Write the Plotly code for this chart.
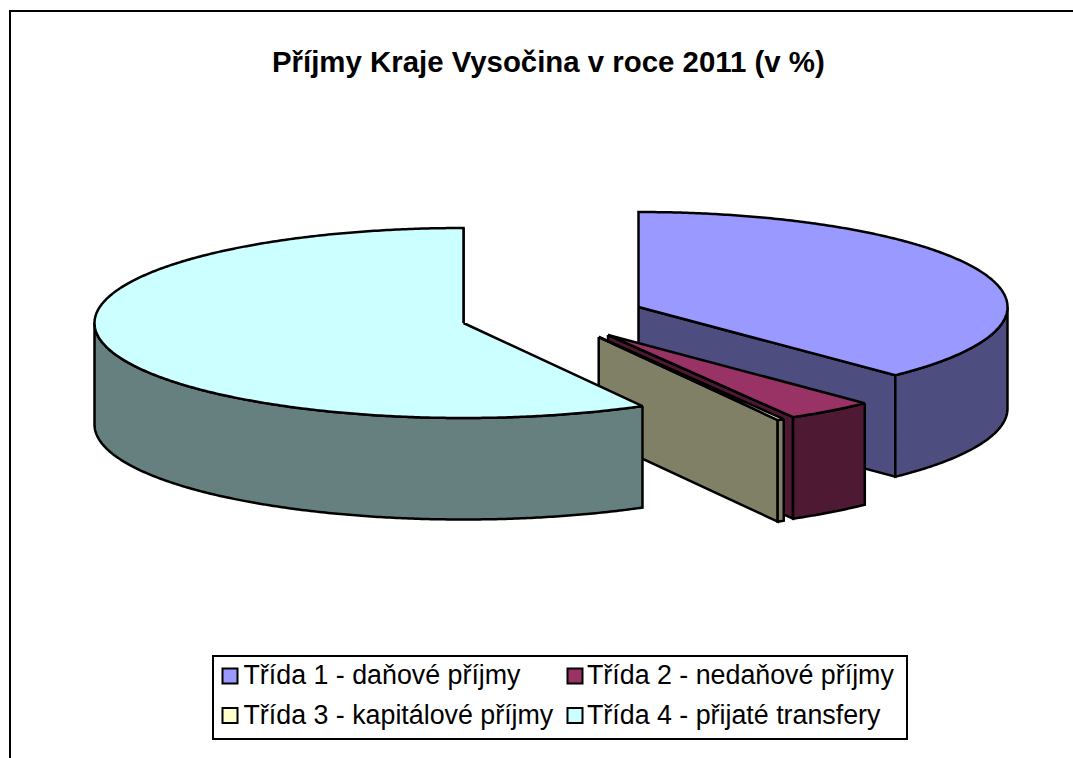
import math
import plotly.graph_objects as go

TITLE = "Příjmy Kraje Vysočina v roce 2011 (v %)"
CATEGORIES = ["Třída 1 - daňové příjmy", "Třída 2 - nedaňové příjmy",
              "Třída 3 - kapitálové příjmy", "Třída 4 - přijaté transfery"]
VALUES = [37.75, 3.89, 0.3, 58.06]

TOP_COLORS = ["#9999FF", "#993366", "#FFFFCC", "#CCFFFF"]
SIDE_COLORS = ["#4D4D80", "#4D1933", "#808066", "#668080"]
# exploded slice apex positions in the 1073x758 canvas
APEX = [(638.5, 307), (608, 335), (598.7, 337), (463.5, 323)]
RX, RY, DEPTH = 369, 95, 101.5
DRAW_ORDER = [0, 1, 2, 3]
W, H = 1073, 758


def pt(apex, deg, dy=0):
    a = math.radians(deg)
    return apex[0] + RX * math.sin(a), apex[1] - RY * math.cos(a) + dy


def arc(apex, a0, a1, dy=0):
    n = max(2, int(abs(a1 - a0) * 2) + 1)
    return [pt(apex, a0 + (a1 - a0) * i / (n - 1), dy) for i in range(n)]


def poly(points, color, name):
    xs = [p[0] for p in points] + [points[0][0]]
    ys = [p[1] for p in points] + [points[0][1]]
    return go.Scatter(x=xs, y=ys, mode="lines", fill="toself", fillcolor=color,
                      line=dict(color="black", width=2.5, simplify=False), name=name,
                      hoverinfo="name", showlegend=False)


total = sum(VALUES)
starts, acc = [], 0.0
for v in VALUES:
    starts.append(acc / total * 360)
    acc += v

fig = go.Figure()
for i in DRAW_ORDER:
    a0 = starts[i]
    a1 = a0 + VALUES[i] / total * 360
    apex = APEX[i]
    name = CATEGORIES[i]
    # cut wall at the end angle of the slice
    e = pt(apex, a1)
    fig.add_trace(poly([apex, e, (e[0], e[1] + DEPTH), (apex[0], apex[1] + DEPTH)], SIDE_COLORS[i], name))
    # outer rim, front half only
    r0, r1 = max(a0, 90), min(a1, 270)
    if r1 > r0:
        upper = arc(apex, r0, r1)
        lower = arc(apex, r1, r0, DEPTH)
        fig.add_trace(poly(upper + lower, SIDE_COLORS[i], name))
    # top face
    fig.add_trace(poly([apex] + arc(apex, a0, a1), TOP_COLORS[i], name))

# legend swatches and labels, laid out in two rows inside the box
LEG_X = [230, 575, 230, 575]
LEG_Y = [676, 676, 715.5, 715.5]
TEXT_X = [243.5, 587, 243.5, 587]
TEXT_DY = 1.5
fig.add_trace(go.Scatter(
    x=LEG_X, y=LEG_Y, mode="markers",
    marker=dict(symbol="square", size=15, color=TOP_COLORS, line=dict(color="black", width=2)),
    text=CATEGORIES, hoverinfo="text", showlegend=False))
fig.add_trace(go.Scatter(
    x=TEXT_X, y=[y + TEXT_DY for y in LEG_Y], mode="text",
    text=CATEGORIES, textposition="middle right",
    textfont=dict(family="Liberation Sans", size=26.8, color="black"),
    hoverinfo="text", showlegend=False))

fig.update_layout(
    width=W, height=H, autosize=False,
    margin=dict(l=0, r=0, t=0, b=0),
    paper_bgcolor="white", plot_bgcolor="white", showlegend=False,
    xaxis=dict(range=[0, W], visible=False, fixedrange=True),
    yaxis=dict(range=[H, 0], visible=False, fixedrange=True),
    shapes=[
        dict(type="path", path="M 10 758 L 10 11 L 1073 11", line=dict(color="black", width=2), layer="below"),
        dict(type="rect", x0=213, y0=656, x1=907, y1=739, line=dict(color="black", width=2), fillcolor="rgba(0,0,0,0)", layer="below"),
    ],
    annotations=[dict(text=f"<b>{TITLE}</b>", x=548.5, y=61, xref="x", yref="y", showarrow=False,
                      font=dict(family="Liberation Sans", size=29.4, color="black"))],
)
fig.write_html("out.html", config={"displayModeBar": False},
               post_script="document.body.style.margin='0';document.body.style.overflow='hidden';")
